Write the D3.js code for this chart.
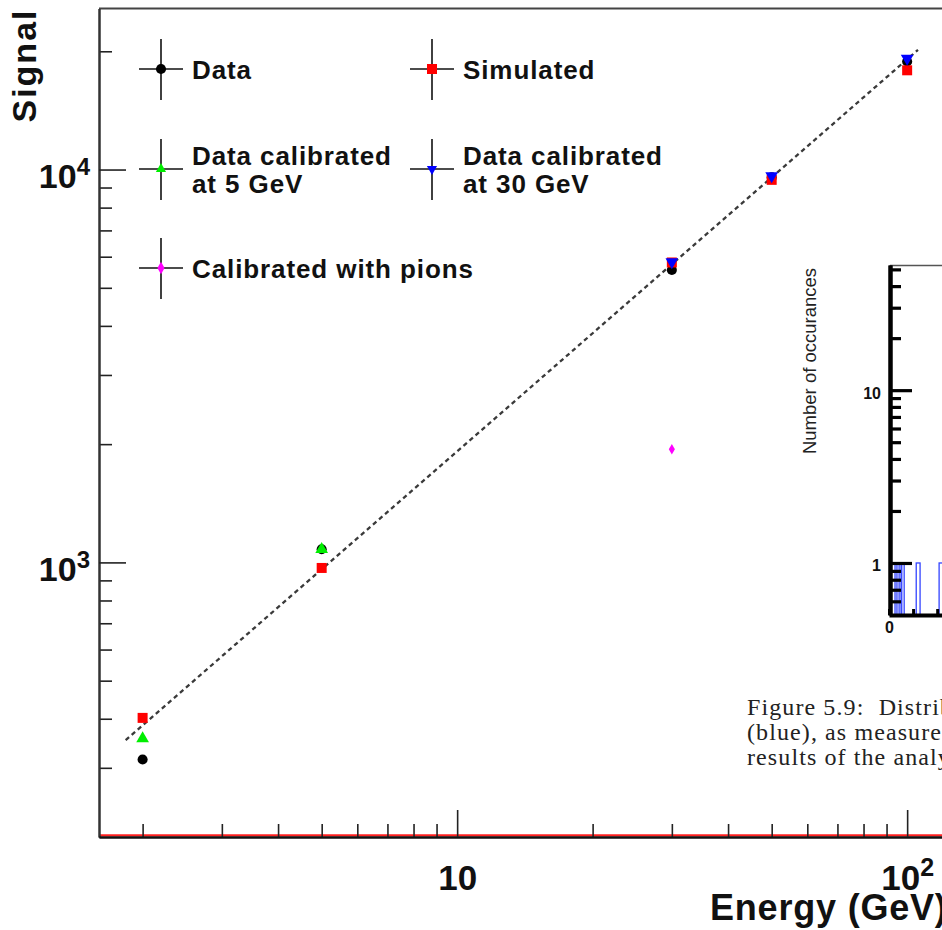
<!DOCTYPE html>
<html><head><meta charset="utf-8">
<script src="https://cdn.jsdelivr.net/npm/d3@7"></script>
<style>body{margin:0;background:#fff}svg{display:block}</style>
</head><body>
<svg id="c" width="942" height="930"></svg>
<script>
// ---------- data ----------
const dataEnergy   = [2, 5, 30, 50, 100];
const dataSignal   = [315, 1080, 5550, 9550, 18840];
const simEnergy    = [2, 5, 30, 50, 100];
const simSignal    = [402, 968, 5800, 9414, 17890];
const cal5Energy   = [2, 5];
const cal5Signal   = [356, 1080];
const cal30Energy  = [30, 50, 100];
const cal30Signal  = [5820, 9638, 19180];
const pionEnergy   = [30];
const pionSignal   = [1941];
const fitEnergy    = [1.834, 105.7];
const fitSignal    = [353, 20165];
const xMajorTicks  = [10, 100];
const xMajorLabels = [["10",""], ["10","2"]];
const xMinorTicks  = [2,3,4,5,6,7,8,9,20,30,40,50,60,70,80,90];
const yMajorTicks  = [1000, 10000];
const yMajorLabels = [["10","3"], ["10","4"]];
const yMinorTicks  = [300,400,500,600,700,800,900,2000,3000,4000,5000,6000,7000,8000,9000,20000];
const legendLabels = [["Data"], ["Simulated"], ["Data calibrated","at 5 GeV"], ["Data calibrated","at 30 GeV"], ["Calibrated with pions"]];
// inset histogram
const histLo     = [0.25, 0.42, 0.53, 1.13, 2.08];
const histHi     = [0.33, 0.50, 0.63, 1.29, 2.30];
const histCount  = [1, 1, 1, 1, 1];
const insetYMajor = [1, 10];
const insetYMinor = [0.6,0.7,0.8,0.9,2,3,4,5,6,7,8,9,20,30,40,50];
const insetXTicks = [0, 1, 2];
const captionLines = ["Figure 5.9:  Distribution", "(blue), as measured", "results of the analysis"];

// ---------- layout ----------
const svg = d3.select("#c");
const L = 99, T = 8.5, B = 837;
const x = d3.scaleLog().domain([1.6, 120]).range([L, L + 450 * Math.log10(120/1.6)]);
const y = d3.scaleLog().domain([200, 25700]).range([B, T]);
const font = "'Liberation Sans', Arial, Helvetica, sans-serif";

// frame
svg.append("line").attr("x1", L).attr("x2", 942).attr("y1", T).attr("y2", T)
  .attr("stroke", "#444").attr("stroke-width", 2);
svg.append("line").attr("x1", L).attr("x2", 942).attr("y1", B - 1.6).attr("y2", B - 1.6)
  .attr("stroke", "#ff2020").attr("stroke-width", 2.4);

// y axis
const gyMin = svg.append("g").attr("transform", `translate(${L},0)`)
  .call(d3.axisLeft(y).tickValues(yMinorTicks).tickSizeInner(-13).tickSizeOuter(0).tickFormat(""));
const gyMaj = svg.append("g").attr("transform", `translate(${L},0)`)
  .call(d3.axisLeft(y).tickValues(yMajorTicks).tickSizeInner(-27).tickSizeOuter(0).tickPadding(9));
[gyMin, gyMaj].forEach(g => {
  g.select(".domain").attr("stroke", "#333").attr("stroke-width", 2);
  g.selectAll(".tick line").attr("stroke", "#222").attr("stroke-width", 1.6);
});
gyMaj.selectAll(".tick text").each(function(d, i) {
  const t = d3.select(this).text(null).attr("dy", null).attr("y", 18)
    .attr("font-family", font).attr("font-weight", "bold").attr("font-size", 34).attr("fill", "#111")
    .attr("x", -9).attr("text-anchor", "end");
  t.append("tspan").text(yMajorLabels[i][0]);
  t.append("tspan").attr("dy", -13).attr("font-size", 24).text(yMajorLabels[i][1]);
});

// x axis
const gxMin = svg.append("g").attr("transform", `translate(0,${B})`)
  .call(d3.axisBottom(x).tickValues(xMinorTicks).tickSizeInner(-13).tickSizeOuter(0).tickFormat(""));
const gxMaj = svg.append("g").attr("transform", `translate(0,${B})`)
  .call(d3.axisBottom(x).tickValues(xMajorTicks).tickSizeInner(-27).tickSizeOuter(0));
[gxMin, gxMaj].forEach(g => {
  g.select(".domain").attr("stroke", "#111").attr("stroke-width", 2);
  g.selectAll(".tick line").attr("stroke", "#222").attr("stroke-width", 1.6);
});
gxMaj.selectAll(".tick text").each(function(d, i) {
  const t = d3.select(this).text(null).attr("dy", null).attr("y", 53)
    .attr("font-family", font).attr("font-weight", "bold").attr("font-size", 35).attr("fill", "#111")
    .attr("text-anchor", "middle");
  t.append("tspan").text(xMajorLabels[i][0]);
  if (xMajorLabels[i][1]) t.append("tspan").attr("dy", -14).attr("font-size", 25).text(xMajorLabels[i][1]);
});

// axis titles
svg.append("text").attr("transform", `translate(36,${T}) rotate(-90)`)
  .attr("text-anchor", "end").attr("font-family", font).attr("font-weight", "bold")
  .attr("font-size", 34).attr("letter-spacing", 2).attr("fill", "#111").text("Signal");
svg.append("text").attr("x", 710).attr("y", 920)
  .attr("font-family", font).attr("font-weight", "bold")
  .attr("font-size", 36).attr("letter-spacing", 0.8).attr("fill", "#111").text("Energy (GeV)");

// fit line
const line = d3.line().x(d => x(d[0])).y(d => y(d[1]));
svg.append("path").datum(d3.zip(fitEnergy, fitSignal)).attr("d", line)
  .attr("fill", "none").attr("stroke", "#3a3a3a").attr("stroke-width", 2.3).attr("stroke-dasharray", "4.5,3.5");

// markers
const series = [
  {e: dataEnergy, s: dataSignal, sym: d3.symbolCircle, size: 80, color: "#000", rot: 0},
  {e: simEnergy, s: simSignal, sym: d3.symbolSquare, size: 100, color: "#ff0000", rot: 0},
  {e: cal5Energy, s: cal5Signal, sym: d3.symbolTriangle, size: 70, color: "#00ee00", rot: 0},
  {e: cal30Energy, s: cal30Signal, sym: d3.symbolTriangle, size: 70, color: "#0000ff", rot: 180},
  {e: pionEnergy, s: pionSignal, sym: d3.symbolDiamond, size: 32, color: "#ff00ff", rot: 0},
];
series.forEach(sr => {
  svg.append("g").selectAll("path").data(d3.zip(sr.e, sr.s)).join("path")
    .attr("d", d3.symbol(sr.sym, sr.size))
    .attr("transform", d => `translate(${x(d[0])},${y(d[1])}) rotate(${sr.rot})`)
    .attr("fill", sr.color);
});

// legend
const legPos = [[161, 69], [432, 69], [161, 169], [432, 169], [161, 268]];
const legSeries = [0, 1, 2, 3, 4];
legendLabels.forEach((lab, i) => {
  const [lx, ly] = legPos[i];
  const sr = series[legSeries[i]];
  const g = svg.append("g");
  g.append("line").attr("x1", lx - 22).attr("x2", lx + 22).attr("y1", ly).attr("y2", ly).attr("stroke", "#111").attr("stroke-width", 1.6);
  g.append("line").attr("x1", lx).attr("x2", lx).attr("y1", ly - 30).attr("y2", ly + 31).attr("stroke", "#111").attr("stroke-width", 1.6);
  g.append("path").attr("d", d3.symbol(sr.sym, legSeries[i] >= 2 ? 45 : sr.size))
    .attr("transform", `translate(${lx},${ly}) rotate(${sr.rot})`).attr("fill", sr.color);
  const t = g.append("text").attr("font-family", font).attr("font-weight", "bold")
    .attr("font-size", 26).attr("letter-spacing", 0.9).attr("fill", "#111");
  if (lab.length === 1) {
    t.append("tspan").attr("x", lx + 31).attr("y", ly + 10).text(lab[0]);
  } else {
    t.append("tspan").attr("x", lx + 31).attr("y", ly - 4).text(lab[0]);
    t.append("tspan").attr("x", lx + 31).attr("y", ly + 24).text(lab[1]);
  }
});

// ---------- inset (overlapping figure) ----------
const iL = 890, iT = 265, iB = 615;
const ix = d3.scaleLinear().domain([0, 2.2]).range([889, 942]);
const iy = d3.scaleLog().domain([0.5, 53]).range([iB, iT]);
svg.append("rect").attr("x", iL - 2).attr("y", iT).attr("width", 942 - iL + 2).attr("height", iB - iT + 2).attr("fill", "#fff");
svg.append("line").attr("x1", iL).attr("x2", 942).attr("y1", iT + 0.5).attr("y2", iT + 0.5).attr("stroke", "#555").attr("stroke-width", 1.5);
// histogram bars
svg.append("g").selectAll("rect").data(d3.range(histLo.length)).join("rect")
  .attr("x", i => ix(histLo[i])).attr("width", i => ix(histHi[i]) - ix(histLo[i]))
  .attr("y", i => iy(histCount[i])).attr("height", i => iB - iy(histCount[i]))
  .attr("fill", "none").attr("stroke", "#3344ff").attr("stroke-width", 1.3);
// inset y axis
const giMin = svg.append("g").attr("transform", `translate(${iL},0)`)
  .call(d3.axisLeft(iy).tickValues(insetYMinor).tickSizeInner(-11).tickSizeOuter(0).tickFormat(""));
const giMaj = svg.append("g").attr("transform", `translate(${iL},0)`)
  .call(d3.axisLeft(iy).tickValues(insetYMajor).tickSizeInner(-22).tickSizeOuter(0).tickPadding(9).tickFormat(d3.format("d")));
[giMin, giMaj].forEach(g => {
  g.select(".domain").attr("stroke", "#000").attr("stroke-width", 4);
  g.selectAll(".tick line").attr("stroke", "#000").attr("stroke-width", 3.2);
});
giMaj.selectAll(".tick text").attr("font-family", font).attr("font-weight", "bold")
  .attr("font-size", 16).attr("fill", "#111").attr("dy", "0.5em");
// inset x axis
const gix = svg.append("g").attr("transform", `translate(0,${iB})`)
  .call(d3.axisBottom(ix).tickValues(insetXTicks).tickSizeInner(-6).tickSizeOuter(0).tickPadding(7)
    .tickFormat(d => d === 0 ? "0" : ""));
gix.select(".domain").attr("stroke", "#000").attr("stroke-width", 4);
gix.selectAll(".tick line").attr("stroke", "#000").attr("stroke-width", 3);
gix.selectAll(".tick text").attr("font-family", font).attr("font-weight", "bold")
  .attr("font-size", 16).attr("fill", "#111");
svg.append("text").attr("transform", `translate(816,${(267 + 455) / 2}) rotate(-90)`)
  .attr("text-anchor", "middle").attr("font-family", font).attr("font-size", 18.5)
  .attr("fill", "#222").text("Number of occurances");

// caption
const cap = svg.append("text").attr("font-family", "'Liberation Serif', 'Times New Roman', serif")
  .attr("font-size", 24).attr("letter-spacing", 1.1).attr("fill", "#222");
captionLines.forEach((s, i) => cap.append("tspan").attr("x", 747).attr("y", 715 + i * 25).attr("xml:space", "preserve").text(s));
</script>
</body></html>
